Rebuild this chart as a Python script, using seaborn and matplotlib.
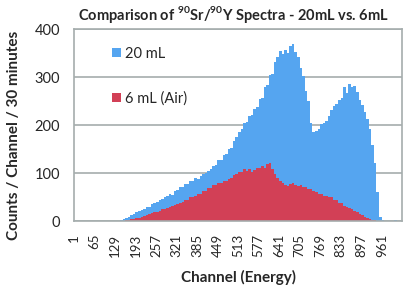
import numpy as np
import pandas as pd
import matplotlib
matplotlib.use("Agg")
import matplotlib.pyplot as plt
import seaborn as sns

# spectrum values, one value per 8-channel bin (128 bins, channels 1..1024)
BIN_WIDTH = 8
counts_20ml = [
    0, 0, 0, 0, 0, 0, 0, 0, 0, 0, 0, 0, 0, 0, 0, 0,
    0, 1, 3, 5, 8, 10, 13, 15, 19, 21, 24, 26, 30, 31, 36, 38,
    41, 44, 46, 50, 53, 57, 56, 63, 65, 71, 72, 78, 77, 84, 85, 90,
    89, 95, 98, 100, 106, 109, 116, 117, 127, 129, 138, 140, 150, 154,
    167, 175, 186, 192, 205, 207, 219, 222, 235, 238, 255, 258, 280, 285,
    304, 308, 332, 342, 356, 349, 358, 350, 366, 370, 352, 343, 320,
    302, 272, 250, 205, 186, 189, 192, 203, 206, 210, 220, 233, 240, 244,
    252, 258, 280, 268, 286, 281, 283, 270, 253, 243, 228, 214, 192, 160,
    122, 62, 10, 2, 0, 0, 1, 0, 2, 0, 0,
]
counts_6ml = [
    0, 0, 0, 0, 0, 0, 0, 0, 0, 0, 0, 0, 0, 0, 0, 0,
    0, 0, 0, 1, 3, 4, 5, 6, 7, 8, 10, 12, 13, 15, 17, 19,
    20, 22, 25, 26, 29, 31, 33, 34, 37, 39, 40, 44, 45, 50, 51, 53,
    57, 57, 63, 64, 69, 70, 75, 76, 80, 81, 85, 85, 89, 91, 97, 98,
    103, 104, 109, 105, 110, 104, 108, 111, 112, 115, 112, 119, 121, 109,
    99, 90, 84, 80, 76, 74, 78, 81, 75, 73, 75, 72, 71, 68, 67, 63,
    62, 57, 57, 54, 53, 50, 50, 45, 44, 39, 38, 33, 31, 27, 25, 21,
    19, 15, 13, 10, 8, 6, 4, 3, 1, 0, 0, 0, 0, 0, 0, 0, 0, 0,
]
tick_channels = list(range(1, 1024, 64))
y_ticks = [0, 100, 200, 300, 400]

BLUE = "#55A5F0"
RED = "#D24056"
GRID = "#A5ADAD"

sns.set_theme(style="white")
plt.rcParams["font.family"] = ["Lato", "DejaVu Sans"]
plt.rcParams["mathtext.fontset"] = "custom"
plt.rcParams["mathtext.rm"] = "Lato"
plt.rcParams["mathtext.bf"] = "Lato:bold"

centers = 0.5 + BIN_WIDTH / 2 + BIN_WIDTH * np.arange(len(counts_20ml))
df = pd.DataFrame({"channel": centers, "20 mL": counts_20ml, "6 mL (Air)": counts_6ml})

fig = plt.figure(figsize=(4.15, 2.91), dpi=100)
ax = fig.add_axes([0.178, 0.239, 0.791, 0.660])

for col, color in [("20 mL", BLUE), ("6 mL (Air)", RED)]:
    sns.histplot(data=df, x="channel", weights=col, binwidth=BIN_WIDTH,
                 binrange=(0.5, 1024.5), color=color, alpha=1, linewidth=0,
                 label=col, ax=ax)

ax.set_xlim(0.5, 1024.5)
ax.set_ylim(0, 400)
ax.set_yticks(y_ticks)
ax.set_xticks(tick_channels)
ax.set_xticklabels([str(c) for c in tick_channels], rotation=90, fontsize=9.5)
ax.tick_params(axis="y", labelsize=10.5, length=0, pad=10)
ax.tick_params(axis="x", length=0, pad=9)
ax.yaxis.grid(True, color=GRID, linewidth=1.2)
ax.set_axisbelow(True)
for s in ax.spines.values():
    s.set_color(GRID)
    s.set_linewidth(1.2)

ax.set_xlabel("Channel (Energy)", fontsize=11, fontweight="bold", labelpad=9)
ax.set_ylabel("Counts / Channel / 30 minutes", fontsize=11, fontweight="bold")
ax.yaxis.set_label_coords(-0.16, 0.45)
ax.set_title(r"Comparison of $^{\mathbf{90}}$Sr/$^{\mathbf{90}}$Y Spectra - 20mL vs. 6mL",
             fontsize=10.5, fontweight="bold", pad=7, x=0.487)

ax.legend(loc="upper left", bbox_to_anchor=(0.116, 0.91), frameon=False, fontsize=10.5,
          borderpad=0, borderaxespad=0, handlelength=0.62, handleheight=0.62,
          handletextpad=0.3, labelspacing=2.1)

fig.savefig("out.png", dpi=100)
